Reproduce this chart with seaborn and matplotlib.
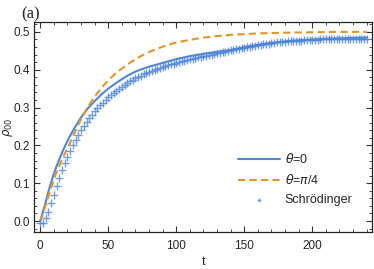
import matplotlib
matplotlib.use("Agg")
import matplotlib.pyplot as plt
from matplotlib.ticker import MultipleLocator
import seaborn as sns
import numpy as np

# theta = 0 curve (solid)
t_line = [0, 2, 4, 6, 8, 10, 12, 15, 18, 21, 25, 30, 35, 40, 45, 50, 55, 60, 65, 70, 75, 80,
          90, 100, 110, 120, 130, 140, 150, 160, 170, 180, 190, 200, 210, 220, 230, 240]
rho_theta0 = [0, 0.025, 0.05, 0.078, 0.102, 0.125, 0.145, 0.172, 0.197, 0.219, 0.245,
              0.274, 0.298, 0.317, 0.335, 0.35, 0.363, 0.375, 0.386, 0.395, 0.402, 0.408,
              0.418, 0.428, 0.436, 0.442, 0.447, 0.452, 0.46, 0.466, 0.471, 0.475, 0.478,
              0.48, 0.482, 0.483, 0.484, 0.485]
# theta = pi/4 curve (dashed)
rho_theta_pi4 = [0, 0.02, 0.042, 0.065, 0.088, 0.11, 0.13, 0.155, 0.178, 0.2, 0.232,
                 0.27, 0.302, 0.329, 0.352, 0.372, 0.389, 0.403, 0.416, 0.428, 0.438, 0.447,
                 0.461, 0.472, 0.479, 0.485, 0.489, 0.492, 0.494, 0.496, 0.497, 0.498,
                 0.4985, 0.499, 0.4995, 0.5, 0.5, 0.5]

# Schroedinger points (every 2 time units)
t_schr = np.arange(0, 242, 2)
rho_schr = [-0.004, -0.004, 0.008, 0.025, 0.047, 0.07, 0.092, 0.113, 0.134, 0.153,
            0.17, 0.186, 0.201, 0.215, 0.228, 0.24, 0.251, 0.262, 0.272, 0.281,
            0.29, 0.298, 0.306, 0.313, 0.32, 0.327, 0.333, 0.339, 0.345, 0.35,
            0.355, 0.36, 0.365, 0.369, 0.373, 0.377, 0.381, 0.384, 0.388, 0.391,
            0.394, 0.397, 0.4, 0.402, 0.405, 0.407, 0.41, 0.412, 0.414, 0.416,
            0.418, 0.42, 0.422, 0.424, 0.426, 0.428, 0.429, 0.431, 0.433, 0.434,
            0.436, 0.437, 0.439, 0.44, 0.442, 0.443, 0.445, 0.446, 0.448, 0.449,
            0.451, 0.452, 0.454, 0.455, 0.457, 0.458, 0.46, 0.461, 0.462, 0.464,
            0.465, 0.466, 0.467, 0.468, 0.469, 0.47, 0.471, 0.472, 0.473, 0.473,
            0.474, 0.475, 0.475, 0.476, 0.476, 0.477, 0.477, 0.478, 0.478, 0.478,
            0.479, 0.479, 0.479, 0.48, 0.48, 0.48, 0.48, 0.481, 0.481, 0.481,
            0.481, 0.481, 0.482, 0.482, 0.482, 0.482, 0.482, 0.482, 0.482, 0.482,
            0.482]

blue = '#4f86d9'
orange = '#e0962a'

sns.set_style("ticks")
plt.rcParams['font.family'] = ['Liberation Sans', 'DejaVu Sans']
plt.rcParams['mathtext.fontset'] = 'dejavusans'

fig = plt.figure(figsize=(3.74, 2.69), dpi=100)
ax = fig.add_axes([0.092, 0.1375, 0.903, 0.7805])

sns.lineplot(x=t_line, y=rho_theta0, ax=ax, color=blue, linewidth=1.5,
             label=r'$\theta$=0')
sns.lineplot(x=t_line, y=rho_theta_pi4, ax=ax, color=orange, linewidth=1.5,
             linestyle=(0, (3.5, 2)), label=r'$\theta$=$\pi$/4')
ax.scatter(t_schr, rho_schr, marker='+', s=30, color=blue, alpha=0.8,
           linewidths=1.0, label='Schrödinger', zorder=3)

ax.set_xlim(-4.3, 244)
ax.set_ylim(-0.029, 0.526)
ax.xaxis.set_major_locator(MultipleLocator(50))
ax.xaxis.set_minor_locator(MultipleLocator(10))
ax.yaxis.set_major_locator(MultipleLocator(0.1))
ax.yaxis.set_minor_locator(MultipleLocator(0.02))
ax.yaxis.set_major_formatter(plt.FuncFormatter(lambda v, p: f'{v:.1f}'))

ax.tick_params(which='both', direction='in', top=True, right=True,
               color='#333333', labelsize=8.5)
ax.tick_params(axis='x', pad=6)
ax.tick_params(which='major', length=4, width=0.8)
ax.tick_params(which='minor', length=2.5, width=0.6)
for s in ax.spines.values():
    s.set_color('#222222')
    s.set_linewidth(0.9)

ax.set_xlabel('t', fontsize=9)
ax.set_ylabel(r'$\rho_{00}$', fontsize=8.5)
ax.xaxis.set_label_coords(0.5, -0.115)
ax.yaxis.set_label_coords(-0.058, 0.5)

leg = ax.legend(loc='lower right', bbox_to_anchor=(0.975, 0.07), frameon=False,
                fontsize=9, handlelength=3.4, handletextpad=0.35, labelspacing=0.55,
                markerscale=0.6)

fig.text(0.058, 0.93, '(a)', fontsize=12, family='Liberation Serif')

fig.savefig('out.png', dpi=100)
